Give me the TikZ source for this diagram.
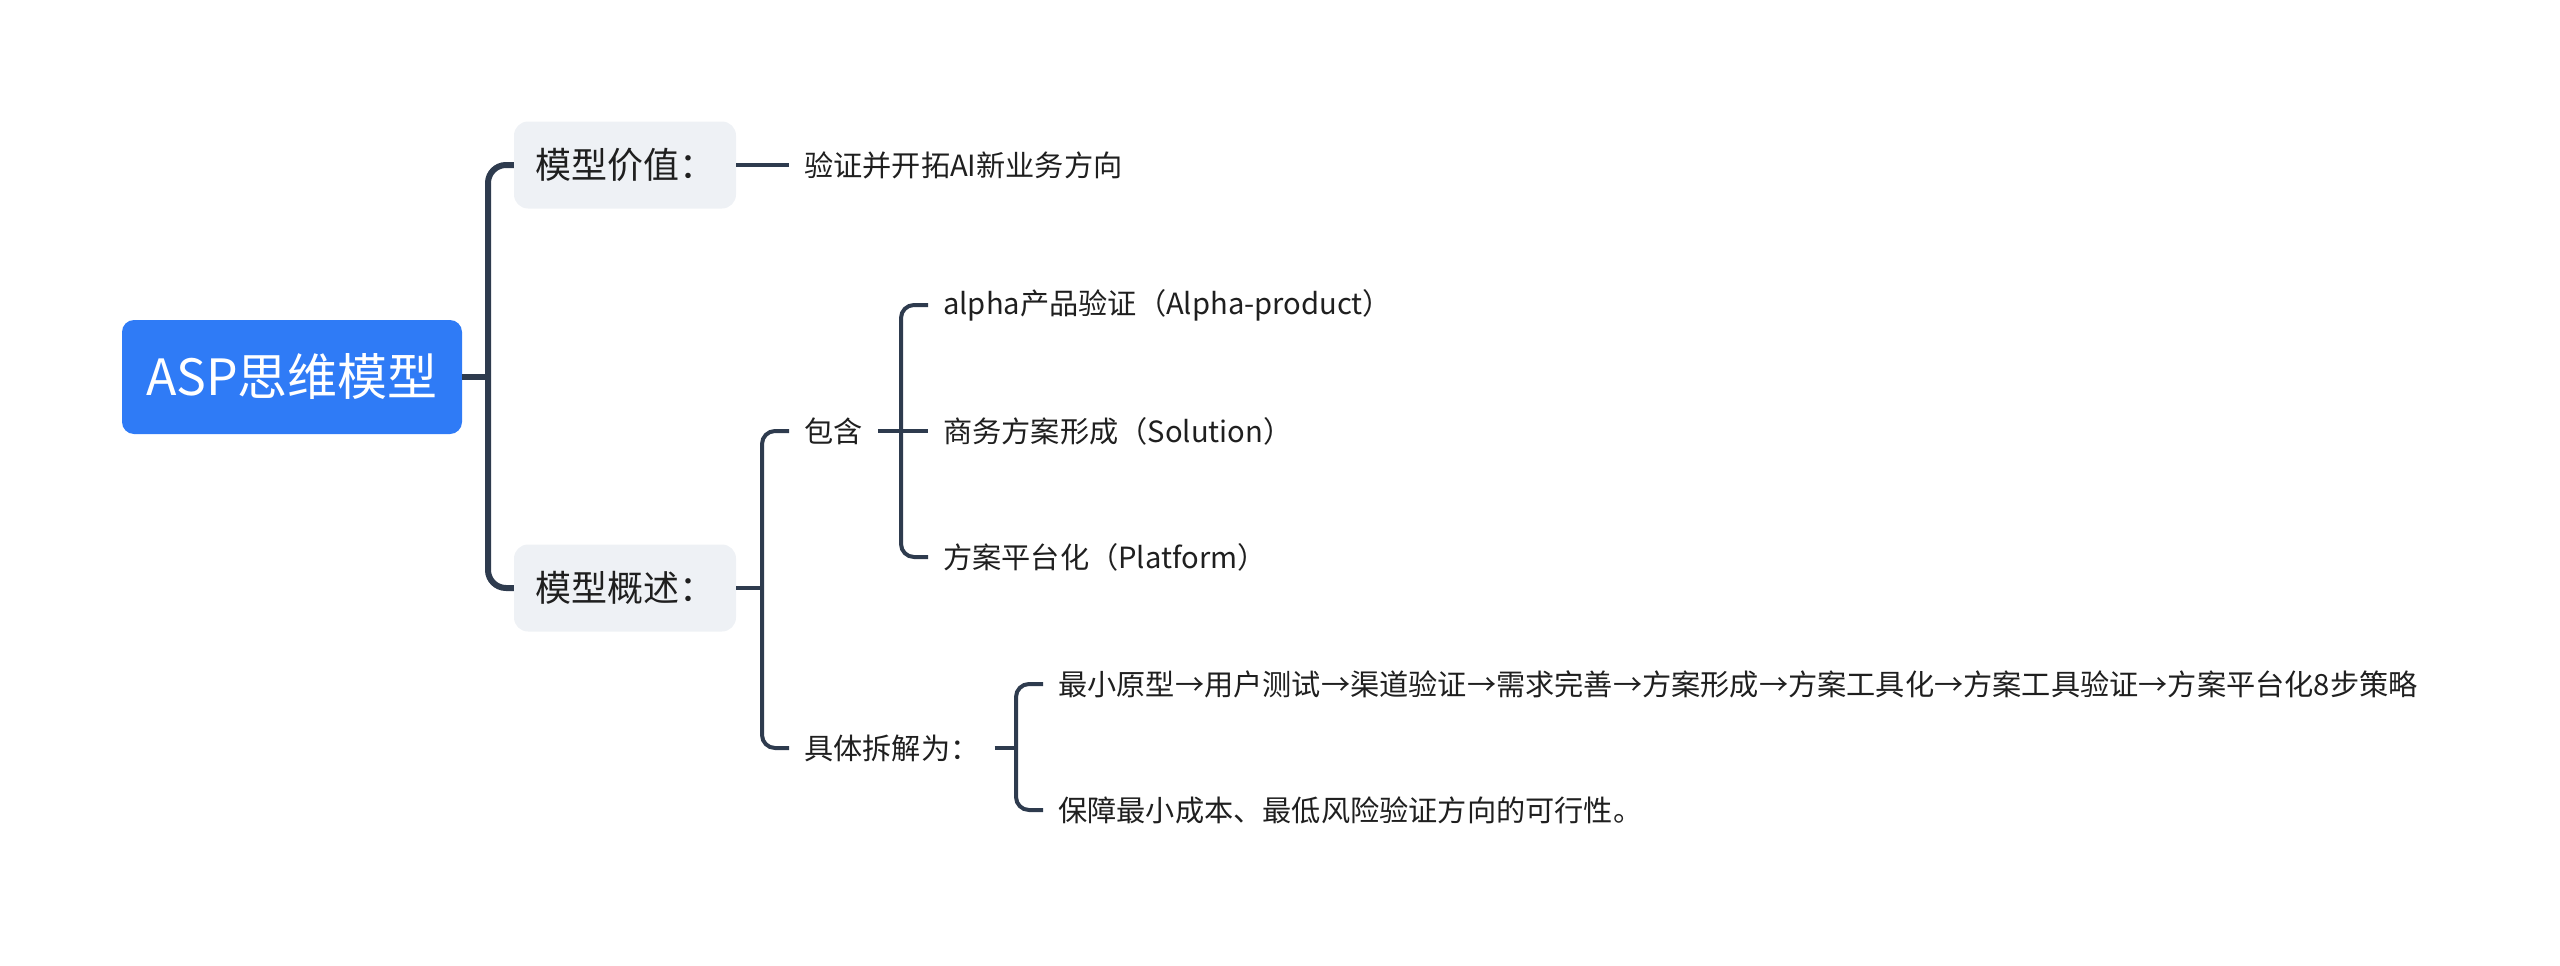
\documentclass[tikz,border=0pt]{standalone}
\usepackage{fontspec}
\setmainfont{Noto Sans CJK SC}

\definecolor{rootblue}{HTML}{2F7BF6}
\definecolor{topicgrey}{HTML}{EEF1F5}
\definecolor{linenavy}{HTML}{2E3B4E}
\definecolor{textdark}{HTML}{1F1F1F}

\begin{document}
\begin{tikzpicture}[x=1pt, y=-1pt,
  central/.style={fill=rootblue, rounded corners=12pt, text=white, inner sep=0pt,
    font=\fontsize{50}{60}\selectfont, minimum width=340pt, minimum height=114pt},
  topic/.style={fill=topicgrey, rounded corners=14pt, text=textdark, inner sep=0pt,
    font=\fontsize{36}{43}\selectfont, minimum width=222pt, minimum height=87pt},
  leaf/.style={anchor=west, text=textdark, inner xsep=15pt, inner ysep=4pt,
    font=\fontsize{29.2}{35}\selectfont},
  trunk/.style={draw=linenavy, line width=6pt, rounded corners=18pt},
  twig/.style={draw=linenavy, line width=4pt, rounded corners=13pt}
]
\useasboundingbox (0,0) rectangle (2560,966);

\node[central] (asp) at (292,377) {ASP思维模型};
\node[topic] (value) at (625,165) {模型价值：};
\node[topic] (overview) at (625,588) {模型概述：};

\node[leaf] (direction) at (789,165) {验证并开拓AI新业务方向};
\node[leaf] (contain) at (789,431) {包含};
\node[leaf] (split) at (789,748) {具体拆解为：};

\node[leaf] (alpha) at (928,305) {alpha产品验证（Alpha-product）};
\node[leaf] (solution) at (928,431) {商务方案形成（Solution）};
\node[leaf] (platform) at (928,557) {方案平台化（Platform）};

\node[leaf] (steps) at (1043,684)
  {最小原型→用户测试→渠道验证→需求完善→方案形成→方案工具化→方案工具验证→方案平台化8步策略};
\node[leaf] (cost) at (1043,810) {保障最小成本、最低风险验证方向的可行性。};

\coordinate (j0) at (488,377);
\draw[trunk] (asp.east) -- (j0);
\draw[trunk] (value.west) -| (j0) |- (overview.west);

\draw[twig] (value.east) -- (direction.west);
\coordinate (j1) at (762,588);
\draw[twig] (overview.east) -- (j1);
\draw[twig] (contain.west) -| (j1) |- (split.west);

\coordinate (j2) at (901,431);
\draw[twig] (contain.east) -- (j2);
\draw[twig] (alpha.west) -| (j2) |- (platform.west);
\draw[twig] (j2) -- (solution.west);

\coordinate (j3) at (1016,748);
\draw[twig] (split.east) -- (j3);
\draw[twig] (steps.west) -| (j3) |- (cost.west);
\end{tikzpicture}
\end{document}
